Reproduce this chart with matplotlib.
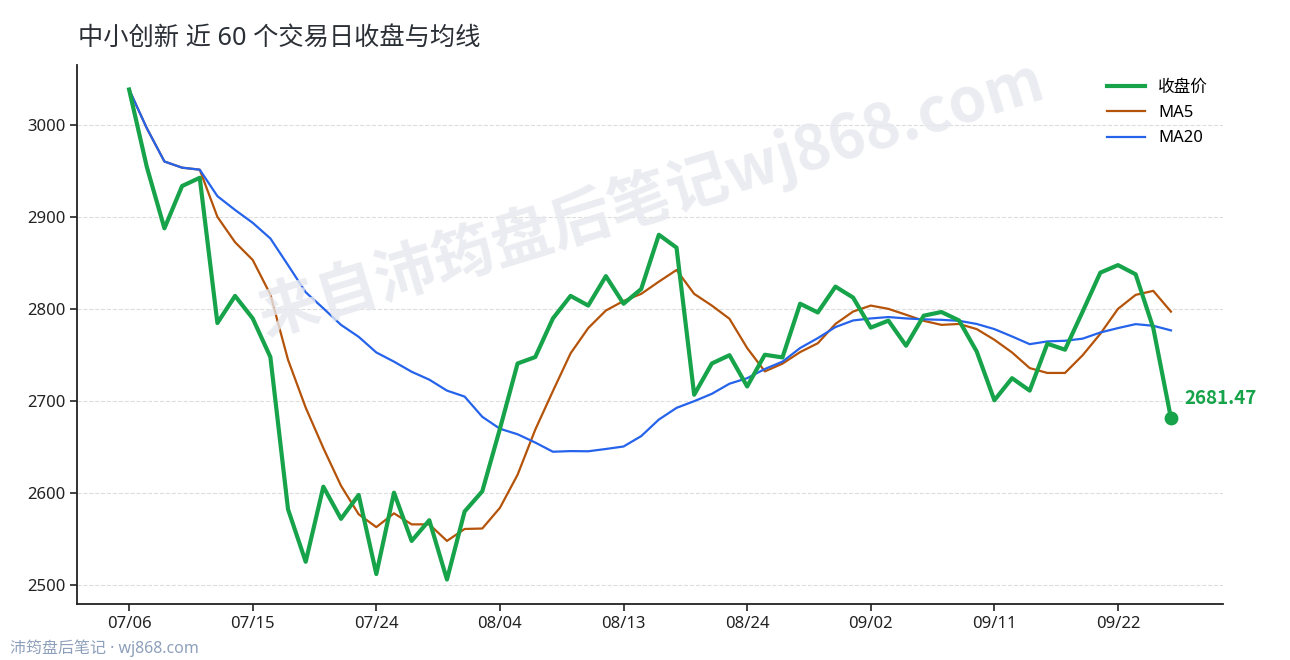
import matplotlib
matplotlib.use("Agg")
import matplotlib.pyplot as plt

plt.rcParams["font.family"] = ["Noto Sans", "Noto Sans CJK SC", "DejaVu Sans"]
BOLD_FAMILY = ["Noto Sans CJK SC", "DejaVu Sans"]

# closing prices, 60 trading days
close = [
    3039, 2955, 2888, 2934, 2943, 2785, 2814.5, 2790, 2748, 2582.4,
    2525.3, 2607, 2572, 2598, 2512, 2600.5, 2548, 2570.5, 2506, 2580,
    2602, 2670, 2741, 2748, 2790, 2814.5, 2804, 2836, 2806, 2822,
    2881, 2867, 2707, 2741, 2750, 2716, 2750.5, 2747.6, 2806, 2796.5,
    2824.6, 2812.7, 2780, 2787.6, 2760.3, 2793, 2797, 2787.8, 2754, 2701,
    2725, 2711.5, 2762.5, 2756, 2797.5, 2839.8, 2848, 2838, 2779.5, 2681.47,
]

ma5 = [
    3039, 2997, 2960.7, 2954, 2951.8, 2900.5, 2872.9, 2853.6, 2816, 2745,
    2693, 2649, 2608, 2577, 2563, 2578, 2566, 2566, 2548, 2561,
    2561.5, 2584, 2620, 2669, 2711, 2752, 2779.5, 2798.6, 2809, 2816.7,
    2830, 2842.7, 2816.7, 2804, 2789.6, 2757.8, 2732.4, 2740.8, 2753.4, 2763,
    2784, 2797.5, 2804, 2800.4, 2794, 2787.4, 2783, 2784, 2778.4, 2766.8,
    2753, 2736, 2730.7, 2730.7, 2750, 2773.3, 2800.4, 2815.6, 2820, 2797.4,
]

ma20 = [
    3039, 2997, 2960.7, 2954, 2951.8, 2923, 2908, 2894, 2877, 2848,
    2818.5, 2801, 2783, 2770, 2753, 2743, 2732, 2723.4, 2711.5, 2705,
    2683, 2670, 2664, 2655, 2645, 2645.7, 2645.5, 2648, 2650.7, 2662,
    2680, 2692.7, 2700, 2708, 2719, 2725, 2735, 2743, 2757.8, 2768.6,
    2780.6, 2787.8, 2790, 2791.5, 2790, 2789, 2788.5, 2787.4, 2784, 2778.4,
    2770.4, 2762, 2765, 2765.7, 2768, 2774.7, 2779.5, 2783.8, 2782, 2777,
]

tick_labels = ["07/06", "07/15", "07/24", "08/04", "08/13",
               "08/24", "09/02", "09/11", "09/22"]

GREEN = "#16a34a"
ORANGE = "#b45309"
BLUE = "#2563eb"

x = list(range(len(close)))

fig = plt.figure(figsize=(12.9, 6.6), dpi=100)
ax = fig.add_axes([0.0597, 0.0848, 0.8884, 0.8167])

ax.plot(x, close, color=GREEN, lw=3, label="收盘价", zorder=4)
ax.plot(x, ma5, color=ORANGE, lw=1.6, label="MA5", zorder=3)
ax.plot(x, ma20, color=BLUE, lw=1.6, label="MA20", zorder=3)

ax.scatter([x[-1]], [close[-1]], s=80, color=GREEN, zorder=5)
ax.annotate(f"{close[-1]:.2f}", (x[-1], close[-1]), xytext=(10, 14),
            textcoords="offset points", color=GREEN, fontsize=13.5,
            fontweight="bold", family=BOLD_FAMILY, va="center", ha="left")

ax.set_xticks(x[::7])
ax.set_xticklabels(tick_labels)
ax.set_yticks([2500, 2600, 2700, 2800, 2900, 3000])

ax.grid(axis="y", linestyle="--", color="#dddddd", lw=0.8)
ax.set_axisbelow(True)
for s in ["top", "right"]:
    ax.spines[s].set_visible(False)
for s in ["left", "bottom"]:
    ax.spines[s].set_color("#222222")
    ax.spines[s].set_linewidth(1.3)
ax.tick_params(labelsize=12, length=5, width=1.2, colors="#222222")

ax.legend(loc="upper right", frameon=False, fontsize=12, handlelength=2.3,
          labelspacing=0.55, bbox_to_anchor=(1.0, 1.0))

fig.text(0.0605, 0.942, "中小创新 近 60 个交易日收盘与均线", fontsize=18.2,
         color="#2b2f36", ha="left", va="center")

fig.text(0.505, 0.70, "来自沛筠盘后笔记wj868.com", fontsize=44,
         fontweight="bold", family=BOLD_FAMILY, color="#e6e8ee", alpha=0.8,
         rotation=17, ha="center", va="center", zorder=0)

fig.text(0.008, 0.018, "沛筠盘后笔记 · wj868.com", fontsize=11.5,
         color="#8fa0bb", ha="left", va="center")

fig.savefig("out.png", dpi=100)
plt.close(fig)
